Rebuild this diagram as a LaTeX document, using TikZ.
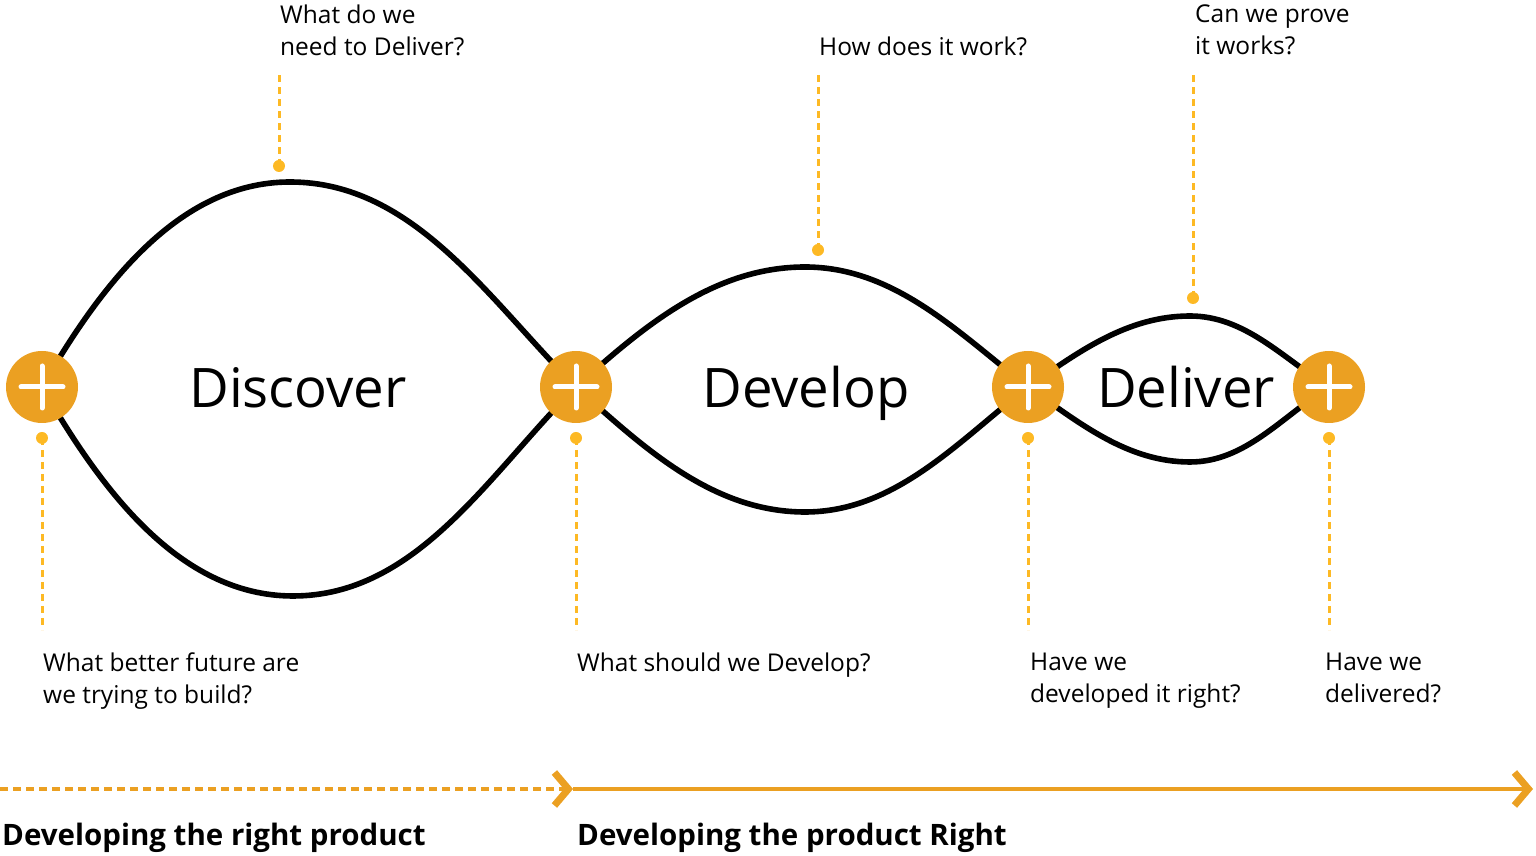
\documentclass[tikz,border=0pt]{standalone}
\usepackage{fontspec}
\setmainfont{Open Sans}
\usetikzlibrary{arrows.meta}
\definecolor{orng}{HTML}{EBA022}
\definecolor{ylw}{HTML}{FDB924}
\tikzset{
  x=1pt,y=1pt,
  curve/.style={line width=5.6pt,black},
  plusnode/.style={circle,fill=orng,minimum size=72pt,inner sep=0pt,
    path picture={\draw[white,line width=5pt,line cap=round]
      ([xshift=-21pt]path picture bounding box.center) -- ([xshift=21pt]path picture bounding box.center)
      ([yshift=-21pt]path picture bounding box.center) -- ([yshift=21pt]path picture bounding box.center);}},
  dotnode/.style={circle,fill=ylw,minimum size=12pt,inner sep=0pt},
  lead/.style={ylw,line width=3pt,dash pattern=on 7pt off 5pt},
  qtext/.style={anchor=north west,align=left,inner sep=0pt,font=\fontsize{24.5}{32}\selectfont},
  big/.style={anchor=base,inner sep=0pt,font=\fontsize{54.5}{60}\selectfont},
  phase/.style={anchor=north west,inner sep=0pt,font=\fontsize{29.5}{32}\selectfont\bfseries},
  bar/.style={orng,line width=3.2pt},
  chev/.style={-{Straight Barb[length=14pt,width=33pt,line width=7pt]}}
}
\begin{document}
\begin{tikzpicture}
\useasboundingbox (0,0) rectangle (1536,856);
% centres
\coordinate (c1) at (42,469);
\coordinate (c2) at (576,469);
\coordinate (c3) at (1028,469);
\coordinate (c4) at (1329,469);
\coordinate (t1) at (290,674);
\coordinate (b1) at (293,260);
\coordinate (t2) at (805,589);
\coordinate (b2) at (805,344);
\coordinate (t3) at (1190,540);
\coordinate (b3) at (1190,394);
% curves
\draw[curve] (c1) to[out=60,in=180,looseness=0.9] (t1) to[out=0,in=135,looseness=0.9] (c2);
\draw[curve] (c1) to[out=-60,in=180,looseness=0.9] (b1) to[out=0,in=-135,looseness=0.9] (c2);
\draw[curve] (c2) to[out=42,in=180,looseness=0.9] (t2) to[out=0,in=142,looseness=0.9] (c3);
\draw[curve] (c2) to[out=-42,in=180,looseness=0.9] (b2) to[out=0,in=-142,looseness=0.9] (c3);
\draw[curve] (c3) to[out=35,in=180,looseness=0.9] (t3) to[out=0,in=148,looseness=0.9] (c4);
\draw[curve] (c3) to[out=-35,in=180,looseness=0.9] (b3) to[out=0,in=-148,looseness=0.9] (c4);
% plus circles
\node[plusnode] (p1) at (c1) {};
\node[plusnode] (p2) at (c2) {};
\node[plusnode] (p3) at (c3) {};
\node[plusnode] (p4) at (c4) {};
% big labels
\node[big] (l1) at (298,448) {Discover};
\node[big] (l2) at (806,448) {Develop};
\node[big] (l3) at (1186,448) {Deliver};
% lower leaders
\node[dotnode] (d1) at (42,418) {};
\node[dotnode] (d2) at (576,418) {};
\node[dotnode] (d3) at (1028,418) {};
\node[dotnode] (d4) at (1329,418) {};
\coordinate (e1) at (42,226);
\coordinate (e2) at (576,226);
\coordinate (e3) at (1028,226);
\coordinate (e4) at (1329,226);
\draw[lead] (d1.center) -- (e1);
\draw[lead] (d2.center) -- (e2);
\draw[lead] (d3.center) -- (e3);
\draw[lead] (d4.center) -- (e4);
% upper leaders
\node[dotnode] (u1) at (279,690) {};
\node[dotnode] (u2) at (818,606) {};
\node[dotnode] (u3) at (1193,558) {};
\coordinate (f1) at (279,781);
\coordinate (f2) at (818,784);
\coordinate (f3) at (1193,781);
\draw[lead] (u1.center) -- (f1);
\draw[lead] (u2.center) -- (f2);
\draw[lead] (u3.center) -- (f3);
% questions
\node[qtext] (q1) at (280,851) {What do we\\need to Deliver?};
\node[qtext] (q2) at (819,819) {How does it work?};
\node[qtext] (q3) at (1195,851) {Can we prove\\it works?};
\node[qtext] (q4) at (43,203) {What better future are\\we trying to build?};
\node[qtext] (q5) at (577,203) {What should we Develop?};
\node[qtext] (q6) at (1030,203) {Have we\\developed it right?};
\node[qtext] (q7) at (1325,203) {Have we\\delivered?};
% bottom arrows
\coordinate (a0) at (0,67);
\coordinate (a1) at (573,67);
\coordinate (a2) at (1533,67);
\draw[bar,dash pattern=on 8pt off 5pt,chev] (a0) -- (a1);
\draw[bar,chev] (a1) -- (a2);
\node[phase] (h1) at (2,33) {Developing the right product};
\node[phase] (h2) at (577,33) {Developing the product Right};
\end{tikzpicture}
\end{document}
